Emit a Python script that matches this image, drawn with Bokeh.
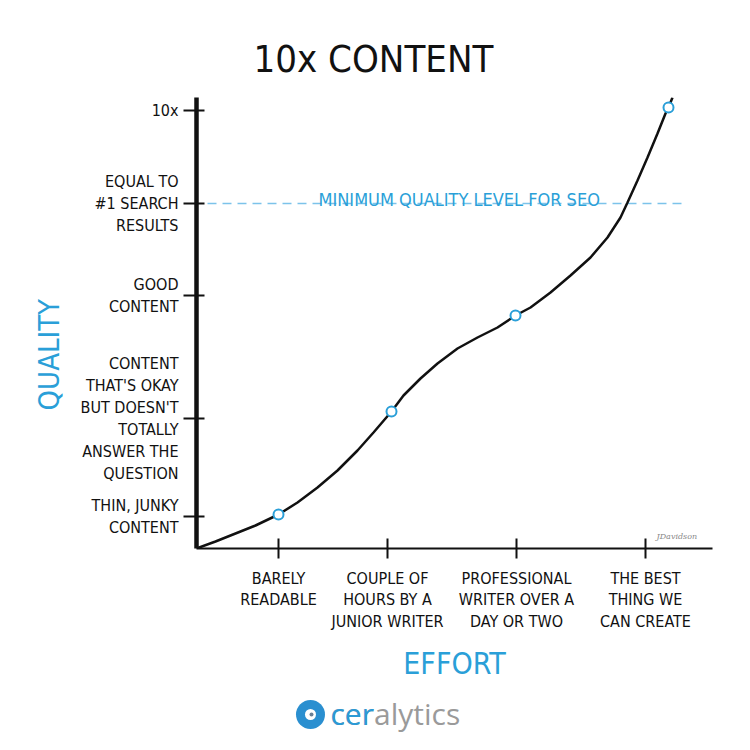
from bokeh.plotting import figure
from bokeh.layouts import column
from bokeh.models import Range1d, FixedTicker, Label, Title
from bokeh.core.properties import value
from bokeh.embed import file_html
from bokeh.resources import INLINE

# ---- data -------------------------------------------------------------
effort_ticks = [82, 191, 320, 449]
effort_labels = [
    "BARELY\nREADABLE",
    "COUPLE OF\nHOURS BY A\nJUNIOR WRITER",
    "PROFESSIONAL\nWRITER OVER A\nDAY OR TWO",
    "THE BEST\nTHING WE\nCAN CREATE",
]
quality_ticks = [32, 130, 253, 345, 438]
quality_labels = [
    "THIN, JUNKY\nCONTENT",
    "CONTENT\nTHAT'S OKAY\nBUT DOESN'T\nTOTALLY\nANSWER THE\nQUESTION",
    "GOOD\nCONTENT",
    "EQUAL TO\n#1 SEARCH\nRESULTS",
    "10x",
]
curve_effort = [0, 19, 39, 59, 82, 101, 121, 141, 161, 177, 195, 207, 224, 241, 261,
                281, 301, 319, 334, 354, 374, 394, 411, 424, 431, 441, 451, 461, 469, 472, 476]
curve_quality = [0, 7, 15, 23, 34, 46, 61, 78, 98, 116, 137, 153, 170, 185, 200,
                 211, 221, 233, 241, 256, 273, 291, 311, 331, 346, 368, 391, 415, 435, 441, 451]
point_effort = [82, 195, 319, 472]
point_quality = [34, 137, 233, 441]
seo_threshold = 345
seo_label = "MINIMUM QUALITY LEVEL FOR SEO"
title_text = "10x CONTENT"
y_title = "QUALITY"
x_title = "EFFORT"
brand = "ceralytics"
brand_head = "cer"

# ---- style ------------------------------------------------------------
FONT = "DejaVu Sans Condensed, Roboto"
BLUE = "#2a9fd8"
LIGHT_BLUE = "#7cc3ea"
INK = "#111111"

p = figure(
    frame_width=516, frame_height=451,
    x_range=Range1d(0, 516), y_range=Range1d(0, 451),
    output_backend="svg", toolbar_location=None,
    min_border_left=196, min_border_right=22,
    min_border_top=97, min_border_bottom=140,
)
p.outline_line_color = None
p.xgrid.visible = False
p.ygrid.visible = False

# title
p.title.text = title_text
p.title.align = "left"
p.title.offset = 57
p.title.text_font = FONT
p.title.text_font_size = "38px"
p.title.text_font_style = "normal"
p.title.text_color = INK
p.title.standoff = 33

# y axis
ya = p.yaxis[0]
ya.ticker = FixedTicker(ticks=quality_ticks)
ya.major_label_overrides = {t: l for t, l in zip(quality_ticks, quality_labels)}
ya.axis_line_width = 4.5
ya.axis_line_color = INK
ya.major_tick_line_width = 2
ya.major_tick_line_color = INK
ya.major_tick_out = 13
ya.major_tick_in = 8
ya.minor_tick_line_color = None
ya.major_label_standoff = 5
ya.major_label_text_font = FONT
ya.major_label_text_font_size = "16px"
ya.major_label_text_color = INK
ya.major_label_text_line_height = 1.15

# y axis title (placed as a side title so it can sit lower, as in the sketch)
p.add_layout(Title(text=y_title, align="left", offset=138, text_font=FONT,
                   text_font_size="29px", text_font_style="normal",
                   text_color=BLUE, standoff=23), "left")

# x axis
xa = p.xaxis[0]
xa.ticker = FixedTicker(ticks=effort_ticks)
xa.major_label_overrides = {t: l for t, l in zip(effort_ticks, effort_labels)}
xa.axis_line_width = 2
xa.axis_line_color = INK
xa.major_tick_line_width = 2
xa.major_tick_line_color = INK
xa.major_tick_out = 10
xa.major_tick_in = 10
xa.minor_tick_line_color = None
xa.major_label_standoff = 10
xa.major_label_text_font = FONT
xa.major_label_text_font_size = "16px"
xa.major_label_text_color = INK
xa.major_label_text_line_height = 1.15
xa.axis_label = x_title
xa.axis_label_text_font = FONT
xa.axis_label_text_font_size = "30px"
xa.axis_label_text_font_style = "normal"
xa.axis_label_text_color = BLUE
xa.axis_label_standoff = 12

# threshold line
p.segment(x0=[11], x1=[486], y0=[seo_threshold], y1=[seo_threshold],
          line_color=LIGHT_BLUE, line_width=1.5, line_dash="9 6")
p.add_layout(Label(x=122, y=seo_threshold + 4, text=seo_label,
                   text_font=FONT, text_font_size="18px", text_color=BLUE,
                   text_baseline="alphabetic", text_align="left"))

# curve and points
p.line(curve_effort, curve_quality, line_color=INK, line_width=2.5)
p.scatter(point_effort, point_quality, marker="circle", size=10,
          fill_color="white", line_color=BLUE, line_width=2)

# signature
p.add_layout(Label(x=460, y=8, text="JDavidson", text_font="DejaVu Serif",
                   text_font_size="8px", text_font_style="italic",
                   text_color="#888888", text_align="left"))

# ---- logo strip (same frame geometry as the chart) --------------------
lg = figure(frame_width=516, frame_height=50, x_range=Range1d(0, 516), y_range=Range1d(0, 50),
            output_backend="svg", toolbar_location=None,
            x_axis_location=None, y_axis_location=None,
            min_border_left=196, min_border_right=22, min_border_top=0, min_border_bottom=0)
lg.outline_line_color = None
lg.xgrid.visible = False
lg.ygrid.visible = False
lg.scatter([114], [24], marker="circle", size=29, fill_color="#2a8fd0", line_color=None)
lg.scatter([114], [24], marker="circle", size=11, fill_color="white", line_color=None)
lg.scatter([115], [24], marker="circle", size=4, fill_color="#6a7f95", line_color=None)
lg.text([134], [25], text=[brand], text_font=value("Open Sans"), text_font_size="30px",
        text_color="#9a9a9a", text_align="left", text_baseline="alphabetic")
lg.text([134], [25], text=[brand_head], text_font=value("Open Sans"), text_font_size="30px",
        text_color="#2b9ad6", text_align="left", text_baseline="alphabetic")

layout = column(p, lg, spacing=0)
open("out.html", "w").write(file_html(layout, INLINE))
